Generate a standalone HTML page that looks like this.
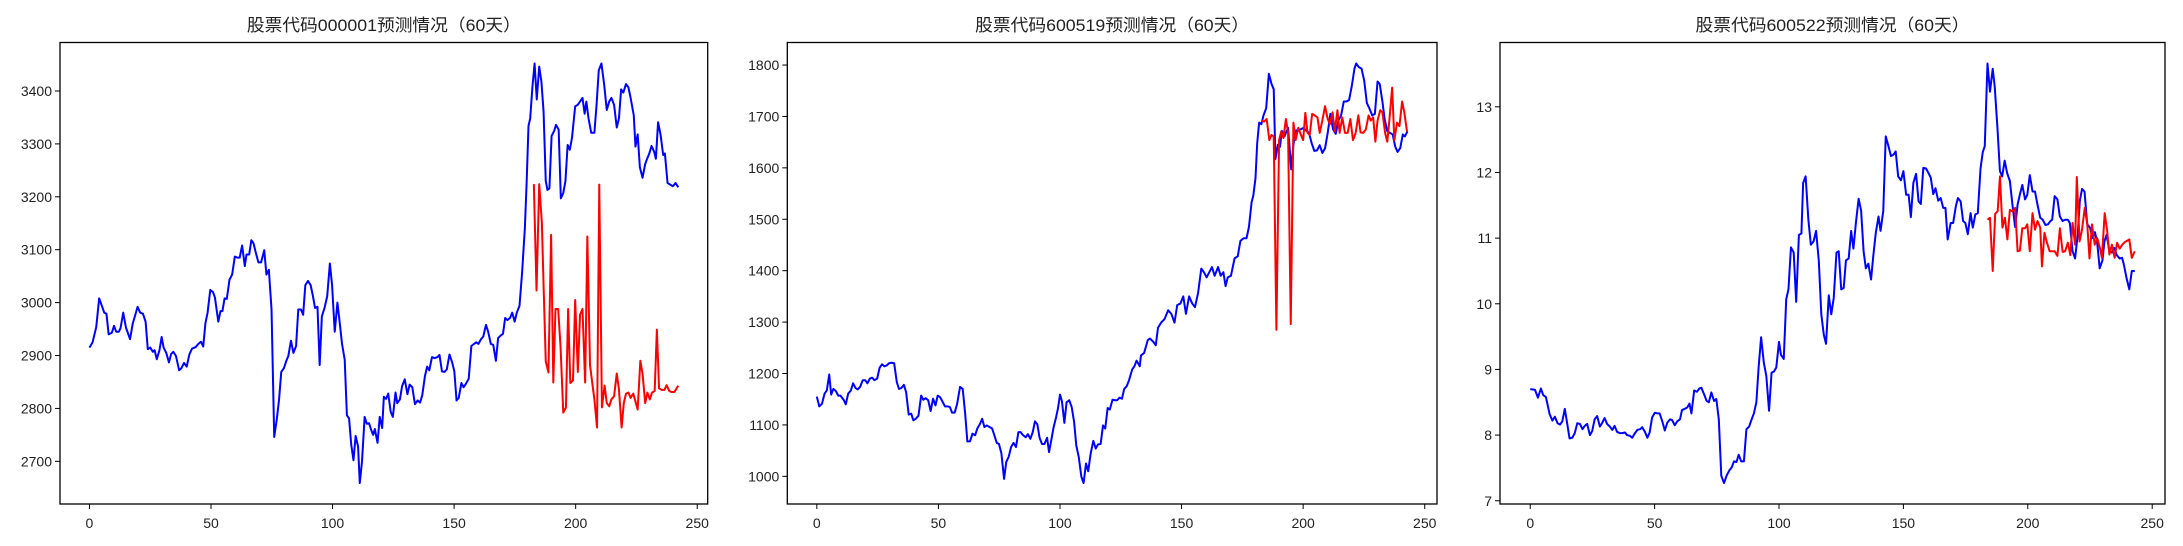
<!DOCTYPE html>
<html>
<head>
<meta charset="utf-8">
<style>
  html, body { margin: 0; padding: 0; background: #fff; }
  svg { display: block; }
  text { font-family: "Liberation Sans", "Noto Sans CJK SC", "WenQuanYi Zen Hei", sans-serif; fill: #222; }
</style>
</head>
<body>
<svg id="fig" width="2183" height="546" viewBox="0 0 2183 546" xmlns="http://www.w3.org/2000/svg">
  <rect x="0" y="0" width="2183" height="546" fill="#ffffff"></rect>
</svg>
<script>
// ---------- Panel 1 : 000001 ----------
const p1Title = "股票代码000001预测情况（60天）";
const p1BlueDays = [0,1.3,2.8,4,5.1,6.1,7,7.9,9.2,10.1,11,12.1,12.8,13.9,15,16.7,17.8,19.8,20.9,22,23.1,24,25,26.1,26.8,27.7,28.8,29.7,30.5,31.6,32.7,33.6,34.5,35.6,36.9,37.8,38.9,40,41.1,42.2,43.7,44.8,45.9,46.8,47.7,48.6,49.7,50.8,51.6,53,53.9,54.7,55.6,56.5,57.6,58.7,59.8,60.9,61.8,62.8,63.9,64.6,65.7,66.6,67.5,68.4,69.5,70.6,71.9,72.8,73.8,74.9,76,77.1,78,78.9,80,80.9,81.8,82.9,83.9,85,85.9,87,87.9,88.8,89.9,91,91.9,92.8,93.8,94.7,95.6,96.7,97.8,98.9,99.8,100.9,102,102.9,103.9,105,105.9,106.8,107.7,108.6,109.5,110.5,111.2,112.1,113.2,114.1,115,116,116.7,117.4,118.5,119.4,120.4,121.1,122,122.9,123.9,124.8,125.9,126.6,127.7,128.6,129.7,130.8,131.7,132.8,133.9,135,136,136.9,138,138.9,139.8,140.9,142,143.1,144,145,146.1,147,148.1,149.2,150.1,151,151.9,153,153.9,154.9,156,157.1,158.2,159.1,160,161.1,162,163.1,164,165.1,166.1,167.2,168.1,169.2,170.1,171,171.9,173,173.9,174.9,175.8,176.9,178,179.1,179.8,180.6,181.3,182.2,183.1,184,185,185.9,186.8,187.7,188.4,189.2,190.1,191.2,191.9,193,193.9,194.9,195.8,196.7,197.6,198.5,199.8,200.9,201.8,202.8,203.7,204.4,205.3,206.4,207.7,208.6,209.5,210.6,211.7,212.8,213.8,214.7,215.8,216.9,217.8,218.7,219.6,220.7,221.7,222.6,223.9,224.6,225.5,226.4,227.5,228.6,229.4,230.3,231.2,232.3,233,233.9,234.9,236,236.7,237.8,238.9,240,241.1,242.2];
const p1BluePrices = [2915,2925,2954,3008,2994,2981,2979,2940,2943,2956,2945,2945,2952,2981,2953,2931,2960,2992,2981,2979,2964,2912,2915,2907,2910,2893,2910,2935,2915,2905,2887,2903,2907,2899,2872,2876,2886,2879,2902,2913,2916,2922,2926,2917,2961,2981,3024,3020,3010,2964,2984,2984,3008,3007,3043,3053,3087,3085,3085,3108,3069,3091,3091,3118,3112,3095,3076,3076,3099,3053,3062,2987,2746,2781,2817,2869,2876,2889,2899,2928,2905,2918,2987,2987,2977,3033,3041,3033,3013,2990,2992,2882,2974,2990,3012,3074,3033,2945,3000,2964,2922,2892,2787,2781,2731,2702,2748,2728,2659,2699,2784,2771,2772,2758,2750,2761,2735,2784,2763,2822,2818,2828,2794,2784,2830,2810,2817,2842,2855,2827,2845,2840,2808,2815,2811,2825,2861,2879,2872,2897,2895,2897,2901,2870,2869,2874,2902,2887,2870,2815,2820,2848,2840,2847,2856,2918,2922,2925,2922,2931,2936,2958,2945,2922,2920,2890,2933,2938,2941,2971,2967,2971,2981,2964,2981,2994,3059,3141,3223,3334,3348,3407,3452,3384,3446,3418,3361,3230,3213,3216,3315,3325,3336,3327,3197,3207,3230,3298,3289,3312,3371,3374,3380,3387,3357,3380,3348,3321,3321,3374,3439,3452,3413,3364,3380,3387,3374,3331,3348,3403,3397,3413,3407,3387,3354,3295,3318,3256,3236,3262,3272,3282,3296,3285,3272,3341,3318,3279,3282,3226,3223,3220,3226,3218];
const p1RedDays = [182.8,183.9,185,186.1,186.8,187.7,188.8,189.9,190.8,191.7,192.8,193.8,194.9,196,196.9,197.8,198.9,199.8,200.9,201.8,202.8,203.9,204.8,205.9,206.8,207.7,208.8,209.7,210.8,211.9,212.8,213.8,214.7,215.8,216.9,217.8,218.9,219.8,220.7,221.7,222.6,223.7,224.6,225.5,226.6,227.5,228.6,229.5,230.5,231.4,232.5,233.4,234.3,235.4,236.5,237.4,238.5,239.4,240.6,242.2];
const p1RedPrices = [3224,3023,3224,3151,3033,2889,2868,3128,2849,2988,2988,2915,2792,2802,2988,2848,2853,3005,2869,2977,2988,2849,3125,2882,2849,2817,2764,3223,2802,2843,2810,2804,2817,2823,2866,2836,2764,2810,2828,2830,2820,2828,2813,2798,2890,2866,2810,2830,2817,2830,2833,2949,2838,2835,2835,2844,2833,2831,2831,2843];
const p1YTicks = [2700,2800,2900,3000,3100,3200,3300,3400];

// ---------- Panel 2 : 600519 ----------
const p2Title = "股票代码600519预测情况（60天）";
const p2BlueDays = [0,1,2.1,3.2,4.1,5.1,5.9,6.8,7.8,8.8,9.7,11,11.9,12.9,14,14.9,15.9,16.8,17.8,18.9,19.9,20.8,21.8,22.7,23.7,24.8,25.8,26.8,27.8,28.8,29.7,30.7,31.8,32.9,33.8,34.8,35.8,36.7,37.8,38.8,39.7,40.7,41.8,42.9,43.8,44.8,45.8,46.8,47.8,48.8,49.7,50.7,51.6,52.7,53.7,54.7,55.6,56.7,57.7,58.9,60,61,61.9,63,64,65.1,66,67.1,68,68.9,69.9,71,72.1,73,74,74.9,75.9,77,77.9,78.9,79.9,80.9,81.9,82.9,83.8,84.8,85.9,86.8,87.8,88.8,89.7,90.7,91.6,92.6,93.6,94.7,95.5,96.4,97.4,98.4,99.2,100,100.8,101.8,102.7,103.8,104.8,105.8,106.7,107.7,108.8,109.7,110.7,111.6,112.6,113.7,114.7,115.6,116.7,117.7,118.6,119.6,120.5,121.6,122.6,123.5,124.5,125.5,126.4,127.4,128.4,129.7,130.6,131.5,132.8,133.3,134.6,136.1,137,138.3,139.4,140.3,141.6,143,144.5,145.8,147.1,148.2,149.5,150.7,151.8,153.1,154.4,155.5,156.8,158.1,159.2,160.3,161.4,162.5,163.6,165,166.1,167.2,168.1,169,170.3,171.8,173.1,174.2,175.5,176.7,177.7,178.8,179.5,180.4,181.1,181.9,182.8,183.7,184.8,185.9,187,187.9,188.6,189.6,190.5,191.2,192.3,193.8,195.1,196,196.9,198,199.1,200.2,201.3,202.4,203.5,204.6,205.7,206.8,207.9,209,210.1,211.2,212.3,213.4,214.5,215.6,216.7,217.8,218.9,220,221.1,221.8,222.9,224,225.1,226.2,227.3,228.4,229.5,230.6,231.5,232.6,233.5,234.6,235.7,236.8,237.9,238.8,239.9,241,241.8,242.9];
const p2BluePrices = [1155,1136,1141,1161,1167,1198,1159,1170,1166,1157,1157,1149,1140,1161,1167,1181,1172,1169,1174,1187,1187,1181,1190,1192,1187,1190,1211,1218,1214,1216,1220,1221,1220,1183,1170,1172,1178,1164,1120,1122,1109,1112,1118,1157,1149,1152,1148,1127,1151,1138,1157,1154,1146,1136,1136,1135,1124,1124,1141,1174,1170,1122,1068,1068,1083,1080,1093,1102,1112,1096,1099,1096,1093,1080,1065,1063,1045,995,1028,1038,1057,1065,1057,1086,1086,1080,1076,1082,1073,1086,1107,1101,1075,1063,1063,1075,1047,1070,1096,1115,1133,1159,1146,1104,1144,1148,1135,1106,1060,1038,999,987,1025,1010,1044,1069,1054,1062,1063,1099,1093,1133,1130,1149,1148,1148,1153,1151,1170,1175,1187,1208,1214,1225,1214,1235,1240,1265,1268,1262,1255,1289,1299,1306,1323,1316,1299,1333,1336,1350,1316,1350,1336,1329,1357,1404,1397,1387,1397,1407,1390,1407,1390,1397,1370,1387,1390,1424,1428,1458,1463,1463,1485,1533,1546,1580,1648,1688,1685,1702,1716,1783,1763,1753,1617,1645,1641,1672,1661,1678,1597,1645,1672,1674,1675,1678,1672,1668,1648,1633,1634,1644,1629,1638,1668,1705,1675,1666,1692,1702,1729,1729,1732,1759,1793,1803,1796,1793,1770,1726,1715,1702,1705,1768,1763,1729,1695,1671,1668,1665,1641,1631,1638,1665,1661,1671];
const p2RedDays = [182.8,183.9,185,186.1,187,187.9,189,190.1,191,191.9,192.9,193.8,194.9,196,196.9,198,199.1,200,200.9,201.8,202.7,203.7,204.8,205.9,206.8,207.9,209,210.1,211,212.1,213,214.1,215,216.1,217.2,218.3,219.4,220.5,221.6,222.7,223.6,224.7,225.8,226.9,227.8,228.8,229.7,230.6,231.7,232.6,233.7,234.6,235.5,236.6,237.5,238.6,239.6,240.7,241.6,242.7];
const p2RedPrices = [1692,1690,1695,1654,1664,1661,1285,1654,1671,1658,1695,1668,1296,1688,1654,1678,1664,1654,1707,1668,1664,1705,1702,1698,1668,1692,1720,1695,1685,1708,1671,1712,1668,1698,1668,1668,1695,1654,1668,1702,1669,1668,1675,1702,1692,1698,1651,1692,1712,1708,1668,1651,1695,1756,1654,1688,1681,1729,1708,1671];
const p2YTicks = [1000,1100,1200,1300,1400,1500,1600,1700,1800];

// ---------- Panel 3 : 600522 ----------
const p3Title = "股票代码600522预测情况（60天）";
const p3BlueDays = [0,1.9,3.1,4.3,5.2,6.3,7.8,8.9,9.9,11,12,12.9,13.9,14.8,15.8,16.9,17.9,18.9,20,21,21.9,22.9,24,24.9,25.9,26.9,28,29,29.9,30.9,32,33,33.9,34.9,36,37,38.1,38.9,40,41,42.1,43.1,44.2,45,46.1,47.1,48,49,50.1,51.1,52,53,54.1,55.1,56.2,57,58.1,59.1,60.2,61,62.1,63.1,64,64.8,65.9,67,68,68.8,69.9,70.9,71.8,72.8,73.9,74.8,75.8,76.8,77.9,78.9,80,81,81.9,82.9,83.8,84.8,85.9,86.9,88,88.8,89.9,90.9,91.8,92.8,93.9,94.9,96,97,98,98.9,100,100.8,101.9,102.9,103.8,104.8,105.9,106.9,108,109,109.7,110.7,111.8,112.8,113.9,114.9,116,117,118,118.9,120,121,122,123.1,124,125,126,126.9,128,129,129.9,130.9,132,133,134,134.9,135.9,137,137.9,138.9,140,140.8,141.9,142.9,144,145,146,146.9,147.9,149,150,151.1,152.1,153,154,155.1,156.1,157,158,159.1,160.1,161,162,162.9,164,165,166,166.9,167.8,169,170,171.1,171.9,173,174,174.9,175.9,177,177.9,178.9,179.9,181,181.9,182.7,183.8,184.8,185.9,186.7,187.8,188.8,189.7,190.7,191.7,192.8,193.8,194.9,195.9,196.8,197.8,198.9,199.8,200.8,201.9,202.9,203.9,205,206,207.1,208.1,209.1,209.8,210.8,211.9,212.9,214,215,216.1,216.9,218,219,220.1,220.9,221.8,222.8,223.9,225,226,227,227.9,228.9,230,230.8,231.7,232.8,233.8,234.8,235.8,236.9,237.9,238.6,239.7,240.8,241.8,243];
const p3BluePrices = [8.70,8.69,8.57,8.71,8.61,8.58,8.32,8.22,8.28,8.18,8.16,8.21,8.40,8.19,7.95,7.96,8.03,8.18,8.17,8.09,8.14,8.17,8.00,8.06,8.24,8.29,8.13,8.19,8.26,8.17,8.13,8.08,8.14,8.05,8.03,8.03,8.04,8.00,7.99,7.96,8.03,8.08,8.09,8.12,8.05,7.96,8.04,8.27,8.34,8.33,8.33,8.22,8.07,8.19,8.24,8.23,8.15,8.21,8.24,8.38,8.40,8.42,8.48,8.33,8.68,8.66,8.71,8.72,8.62,8.52,8.50,8.65,8.52,8.55,8.24,7.38,7.27,7.38,7.46,7.51,7.60,7.59,7.70,7.60,7.60,8.09,8.13,8.22,8.33,8.50,9.03,9.49,9.10,8.90,8.37,8.95,8.97,9.03,9.42,9.22,9.16,10.07,10.22,10.86,10.78,10.03,11.05,11.07,11.84,11.94,11.28,10.90,10.95,11.11,10.65,9.84,9.53,9.39,10.13,9.84,10.09,10.78,10.80,10.22,10.24,10.66,10.69,11.11,10.84,11.23,11.60,11.42,10.80,10.54,10.61,10.37,10.73,11.08,11.33,11.11,11.41,12.55,12.40,12.25,12.27,12.32,11.94,11.88,12.02,11.66,11.66,11.32,11.84,11.98,11.56,11.52,12.07,12.06,11.99,11.92,11.67,11.76,11.57,11.61,11.46,11.46,10.98,11.23,11.23,11.49,11.61,11.56,11.26,11.23,11.06,11.38,11.16,11.36,11.38,12.06,12.31,12.40,13.66,13.23,13.58,13.31,12.68,12.02,11.94,12.18,11.99,11.87,11.52,11.17,11.51,11.66,11.81,11.59,11.66,11.96,11.71,11.71,11.51,11.31,11.28,11.20,11.21,11.26,11.28,11.64,11.59,11.33,11.26,11.28,11.28,11.23,10.80,10.69,11.06,11.56,11.75,11.71,11.21,11.16,11.00,11.09,10.93,10.54,10.66,10.95,11.05,10.80,10.78,10.85,10.74,10.69,10.70,10.60,10.39,10.22,10.50,10.50];
const p3RedDays = [183.8,184.8,185.9,186.9,187.9,188.8,189.8,190.8,191.8,192.8,193.8,194.9,195.9,196.8,197.8,198.9,199.8,200.8,201.9,202.9,203.9,205,205.7,206.7,207.7,208.8,209.8,210.8,211.9,212.9,214,215,216.1,217.1,218,219,219.7,220.8,221.8,222.9,223.9,224.8,225.8,226.9,227.9,229,229.8,230.9,231.9,232.8,233.8,234.9,235.9,236.9,238,239,240.8,241.8,243];
const p3RedPrices = [11.28,11.31,10.50,11.37,11.41,11.94,11.16,11.31,10.98,11.43,11.41,11.46,10.80,10.81,11.15,11.15,11.21,10.80,11.38,11.13,11.26,11.16,10.57,11.08,10.93,10.80,10.80,10.80,10.73,11.15,10.79,10.80,10.93,10.74,11.23,10.90,11.93,10.95,11.13,11.46,11.21,10.69,11.21,10.90,11.00,10.85,10.70,11.38,11.11,10.75,10.90,10.70,10.93,10.84,10.90,10.94,10.98,10.70,10.80];
const p3YTicks = [7,8,9,10,11,12,13];

const xTicks = [0,50,100,150,200,250];

// ---------- drawing ----------
const NS = "http://www.w3.org/2000/svg";
const fig = document.getElementById('fig');
const AX_TOP = 42.5, AX_BOTTOM = 504;

function mk(tag, attrs, parent) {
  const el = document.createElementNS(NS, tag);
  for (const k in attrs) el.setAttribute(k, attrs[k]);
  parent.appendChild(el);
  return el;
}

function drawPanel(idx, left, right, title, blueX, blueY, redX, redY, yTicks) {
  const g = mk('g', {}, fig);
  
  

  const allX = blueX.concat(redX), allY = blueY.concat(redY);
  const xMin = Math.min(...allX), xMax = Math.max(...allX);
  const yMin = Math.min(...allY), yMax = Math.max(...allY);
  const xPad = (xMax - xMin) * 0.05, yPad = (yMax - yMin) * 0.05;
  const x0 = xMin - xPad, x1 = xMax + xPad;
  const y0 = yMin - yPad, y1 = yMax + yPad;
  const sx = v => left + (v - x0) / (x1 - x0) * (right - left);
  const sy = v => AX_BOTTOM - (v - y0) / (y1 - y0) * (AX_BOTTOM - AX_TOP);

  const t = mk('text', {x: (left + right) / 2, y: 31, 'text-anchor': 'middle', 'font-size': 17, textLength: 274, lengthAdjust: 'spacingAndGlyphs'}, g);
  t.textContent = title;
  
  

  // clip
  const cid = 'clip' + idx;
  const cp = mk('clipPath', {id: cid}, g);
  mk('rect', {x: left, y: AX_TOP, width: right - left, height: AX_BOTTOM - AX_TOP}, cp);

  function line(xs, ys, color, name) {
    let d = '';
    for (let i = 0; i < xs.length; i++) d += (i ? 'L' : 'M') + sx(xs[i]).toFixed(2) + ',' + sy(ys[i]).toFixed(2);
    const p = mk('path', {d: d, fill: 'none', stroke: color, 'stroke-width': 2, 'stroke-linejoin': 'round', 'clip-path': 'url(#' + cid + ')'}, g);
    
    
  }
  line(blueX, blueY, '#0000ff', 'actual-price-line');
  line(redX, redY, '#ff0000', 'predicted-price-line');

  // x ticks
  const xg = mk('g', {}, g);
  
  
  xTicks.forEach(v => {
    const x = sx(v);
    if (x < left - 0.5 || x > right + 0.5) return;
    mk('line', {x1: x, x2: x, y1: AX_BOTTOM, y2: AX_BOTTOM + 5, stroke: '#000', 'stroke-width': 1}, xg);
    const tx = mk('text', {x: x, y: 528, 'text-anchor': 'middle', 'font-size': 14}, xg);
    tx.textContent = String(v);
    
    
  });
  // y ticks
  const yg = mk('g', {}, g);
  
  
  yTicks.forEach(v => {
    const y = sy(v);
    mk('line', {x1: left - 5, x2: left, y1: y, y2: y, stroke: '#000', 'stroke-width': 1}, yg);
    const ty = mk('text', {x: left - 8, y: y + 5, 'text-anchor': 'end', 'font-size': 14}, yg);
    ty.textContent = String(v);
    
    
  });

  const frame = mk('rect', {x: left, y: AX_TOP, width: right - left, height: AX_BOTTOM - AX_TOP, fill: 'none', stroke: '#000', 'stroke-width': 1.3}, g);
  
  
}

drawPanel(1, 60, 707.7, p1Title, p1BlueDays, p1BluePrices, p1RedDays, p1RedPrices, p1YTicks);
drawPanel(2, 787.3, 1437, p2Title, p2BlueDays, p2BluePrices, p2RedDays, p2RedPrices, p2YTicks);
drawPanel(3, 1500, 2165, p3Title, p3BlueDays, p3BluePrices, p3RedDays, p3RedPrices, p3YTicks);
</script>
</body>
</html>
